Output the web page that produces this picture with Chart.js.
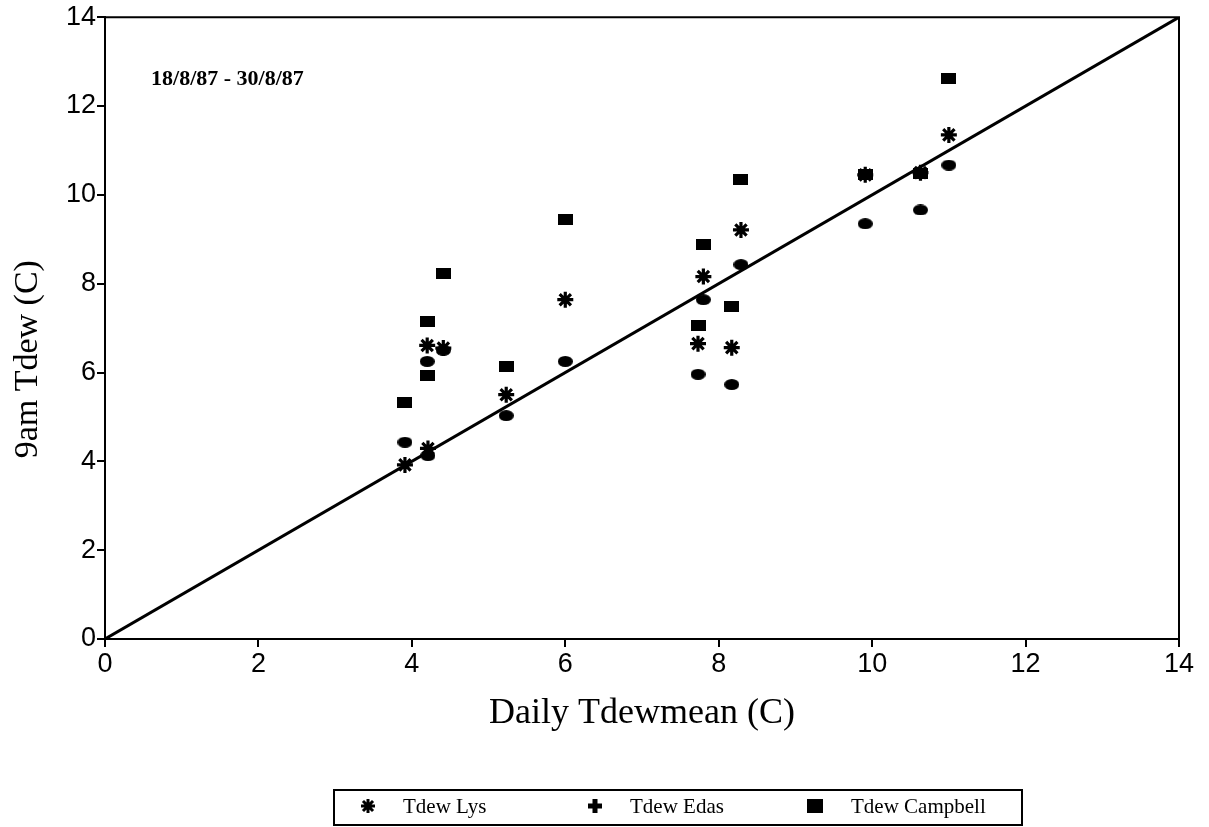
<!DOCTYPE html>
<html>
<head>
<meta charset="utf-8">
<script src="https://cdn.jsdelivr.net/npm/chart.js@4.4.0/dist/chart.umd.min.js"></script>
<style>
  html, body { margin: 0; padding: 0; background: #fff; }
  #wrap { width: 1209px; height: 827px; }
</style>
</head>
<body>
<div id="wrap"><canvas id="c" width="1209" height="827"></canvas></div>
<script>
// ---- data ----
const dailyMean = [3.91, 4.20, 4.21, 4.41, 5.23, 6.00, 7.73, 7.80, 8.17, 8.29, 9.91, 10.63, 11.00];
const tdewLys = [3.92, 6.61, 4.29, 6.55, 5.50, 7.64, 6.65, 8.16, 6.56, 9.21, 10.45, 10.50, 11.35];
const tdewEdas = [4.43, 6.25, 4.13, 6.50, 5.03, 6.25, 5.96, 7.64, 5.73, 8.43, 9.35, 9.66, 10.67];
const tdewCampbell = [5.33, 7.15, 5.93, 8.22, 6.13, 9.44, 7.06, 8.88, 7.48, 10.34, 10.45, 10.49, 12.63];
const oneToOne = [[0, 0], [14, 14]];
const seriesLabels = ['Tdew Lys', 'Tdew Edas', 'Tdew Campbell'];
const periodText = '18/8/87 - 30/8/87';
const xTitle = 'Daily Tdewmean (C)';
const yTitle = '9am Tdew (C)';

// ---- marker images ----
function makeMarker(w, h, draw) {
  const c = document.createElement('canvas');
  c.width = w; c.height = h;
  const g = c.getContext('2d');
  g.fillStyle = '#000';
  draw(g, w, h);
  return c;
}
const squareImg = makeMarker(15, 11, (g, w, h) => g.fillRect(0, 0, w, h));
const ovalImg = makeMarker(15, 11, (g, w, h) => {
  g.beginPath(); g.ellipse(w / 2, h / 2, w / 2, h / 2, 0, 0, Math.PI * 2); g.fill();
});

function pts(ys) { return dailyMean.map((x, i) => ({ x: x, y: ys[i] })); }

function drawStar(ctx, x, y, r, lw) {
  ctx.save();
  ctx.strokeStyle = '#000'; ctx.lineWidth = lw; ctx.lineCap = 'butt';
  const d = r * 0.72;
  ctx.beginPath();
  ctx.moveTo(x - r, y); ctx.lineTo(x + r, y);
  ctx.moveTo(x, y - r); ctx.lineTo(x, y + r);
  ctx.moveTo(x - d, y - d); ctx.lineTo(x + d, y + d);
  ctx.moveTo(x - d, y + d); ctx.lineTo(x + d, y - d);
  ctx.stroke();
  ctx.restore();
}

const frameAndLegend = {
  id: 'frameAndLegend',
  beforeDatasetsDraw(chart) {
    const { ctx, chartArea: a } = chart;
    ctx.save();
    ctx.strokeStyle = '#000';
    ctx.lineWidth = 2;
    ctx.beginPath();
    ctx.moveTo(a.left, a.top); ctx.lineTo(a.right, a.top); ctx.lineTo(a.right, a.bottom);
    ctx.stroke();
    const xs = chart.scales.x, ys = chart.scales.y;
    ctx.fillStyle = '#000';
    // period annotation
    ctx.font = 'bold 22px "Liberation Serif"';
    ctx.textBaseline = 'middle';
    ctx.textAlign = 'left';
    ctx.fillText(periodText, xs.getPixelForValue(0.6), ys.getPixelForValue(12.6));
    // y axis title
    ctx.save();
    ctx.translate(28, ys.getPixelForValue(6.3));
    ctx.rotate(-Math.PI / 2);
    ctx.textAlign = 'center';
    ctx.font = '34px "Liberation Serif"';
    ctx.fillText(yTitle, 0, 0);
    ctx.restore();
    ctx.restore();
  },
  afterDraw(chart) {
    const ctx = chart.ctx;
    ctx.save();
    ctx.strokeStyle = '#000';
    ctx.lineWidth = 2;
    ctx.strokeRect(334, 790, 688, 35);
    const cy = 806;
    ctx.fillStyle = '#000';
    ctx.font = '21px "Liberation Serif"';
    ctx.textBaseline = 'middle';
    ctx.textAlign = 'left';
    const items = [
      { mx: 368, tx: 403 },
      { mx: 595, tx: 630 },
      { mx: 815, tx: 851 }
    ];
    drawStar(ctx, items[0].mx, cy, 7, 3);
    ctx.fillRect(items[1].mx - 7, cy - 2.5, 14, 5);
    ctx.fillRect(items[1].mx - 2.5, cy - 7, 5, 14);
    ctx.fillRect(items[2].mx - 8, cy - 7, 16, 14);
    items.forEach((it, i) => ctx.fillText(seriesLabels[i], it.tx, cy + 1));
    ctx.restore();
  }
};

const tickFont = { family: '"Liberation Sans", Arial, sans-serif', size: 27 };
const titleFont = { family: '"Liberation Serif", "Times New Roman", serif', size: 36 };

new Chart(document.getElementById('c'), {
  type: 'scatter',
  data: {
    datasets: [
      {
        label: 'one-to-one', data: oneToOne.map(p => ({ x: p[0], y: p[1] })),
        showLine: true, borderColor: '#000', borderWidth: 3, pointRadius: 0, order: 10
      },
      {
        label: seriesLabels[0], data: pts(tdewLys), pointStyle: 'star', pointRadius: 8,
        borderColor: '#000', backgroundColor: '#000', pointBorderWidth: 3.2
      },
      {
        label: seriesLabels[1], data: pts(tdewEdas), pointStyle: ovalImg,
        borderColor: '#000', backgroundColor: '#000'
      },
      {
        label: seriesLabels[2], data: pts(tdewCampbell), pointStyle: squareImg,
        borderColor: '#000', backgroundColor: '#000'
      }
    ]
  },
  options: {
    responsive: false,
    animation: false,
    devicePixelRatio: 1,
    layout: { padding: { left: 0, right: 30, top: 15, bottom: 82 } },
    plugins: { legend: { display: false }, tooltip: { enabled: false } },
    scales: {
      x: {
        type: 'linear', min: 0, max: 14,
        ticks: { stepSize: 2, color: '#000', font: tickFont, padding: 1, maxRotation: 0 },
        grid: { drawOnChartArea: false, tickLength: 8, color: '#000', lineWidth: 2 },
        border: { color: '#000', width: 2 },
        title: { display: true, text: xTitle, color: '#000', font: titleFont, padding: { top: 0, bottom: 10 } },
        afterFit(s) { s.height = 106; }
      },
      y: {
        type: 'linear', min: 0, max: 14,
        ticks: { stepSize: 2, color: '#000', font: tickFont, padding: 1 },
        grid: { drawOnChartArea: false, tickLength: 8, color: '#000', lineWidth: 2 },
        border: { color: '#000', width: 2 },
        title: { display: false },
        afterFit(s) { s.width = 105; }
      }
    }
  },
  plugins: [frameAndLegend]
});
</script>
</body>
</html>
